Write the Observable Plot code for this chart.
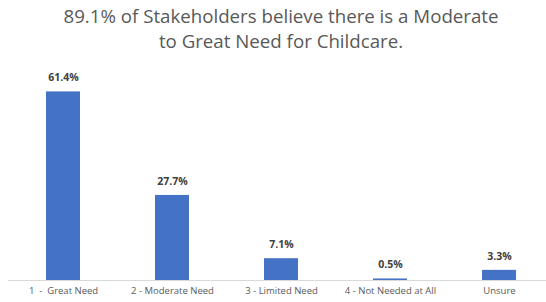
<!DOCTYPE html>
<html>
<head>
<meta charset="utf-8">
<script src="https://cdn.jsdelivr.net/npm/d3@7"></script>
<script src="https://cdn.jsdelivr.net/npm/@observablehq/plot@0.6"></script>
<style>
  body { margin: 0; background: #fff; width: 546px; height: 302px; overflow: hidden; }
  #title { width: 546px; height: 60px; box-sizing: border-box; padding-top: 3px; padding-left: 16px;
    text-align: center; font-family: "Open Sans", sans-serif; font-size: 18.7px; line-height: 25px; color: #595959; white-space: nowrap; }
  #chart svg text { white-space: pre; }
</style>
</head>
<body>
<div id="title">89.1% of Stakeholders believe there is a Moderate<br>to Great Need for Childcare.</div>
<div id="chart"></div>
<script>
const categories = ["1  -  Great Need", "2 - Moderate Need", "3 - Limited Need", "4 - Not Needed at All", "Unsure"];
const values = [61.4, 27.7, 7.1, 0.5, 3.3];
const labels = ["61.4%", "27.7%", "7.1%", "0.5%", "3.3%"];

const data = categories.map((c, i) => ({category: c, value: values[i], label: labels[i]}));

const chart = Plot.plot({
  width: 546,
  height: 242,
  marginTop: 5,
  marginBottom: 22,
  marginLeft: 8,
  marginRight: 0,
  style: {fontFamily: "Open Sans, sans-serif", background: "#fff"},
  x: {domain: categories, range: [8.5, 553.5], paddingInner: 0.69, paddingOuter: 0.345, label: null},
  y: {domain: [0, 70], axis: null},
  marks: [
    Plot.barY(data, {x: "category", y: "value", fill: "#4472C4"}),
    Plot.ruleY([0], {stroke: "#d9d9d9", strokeWidth: 1}),
    Plot.text(data, {x: "category", y: "value", text: "label", dy: -14, fontWeight: "bold", fontSize: 10.5, fill: "#404040"}),
    Plot.axisX({tickSize: 0, tickPadding: 7, fontSize: 9.5, color: "#595959", label: null})
  ]
});
document.getElementById("chart").appendChild(chart);
</script>
</body>
</html>
